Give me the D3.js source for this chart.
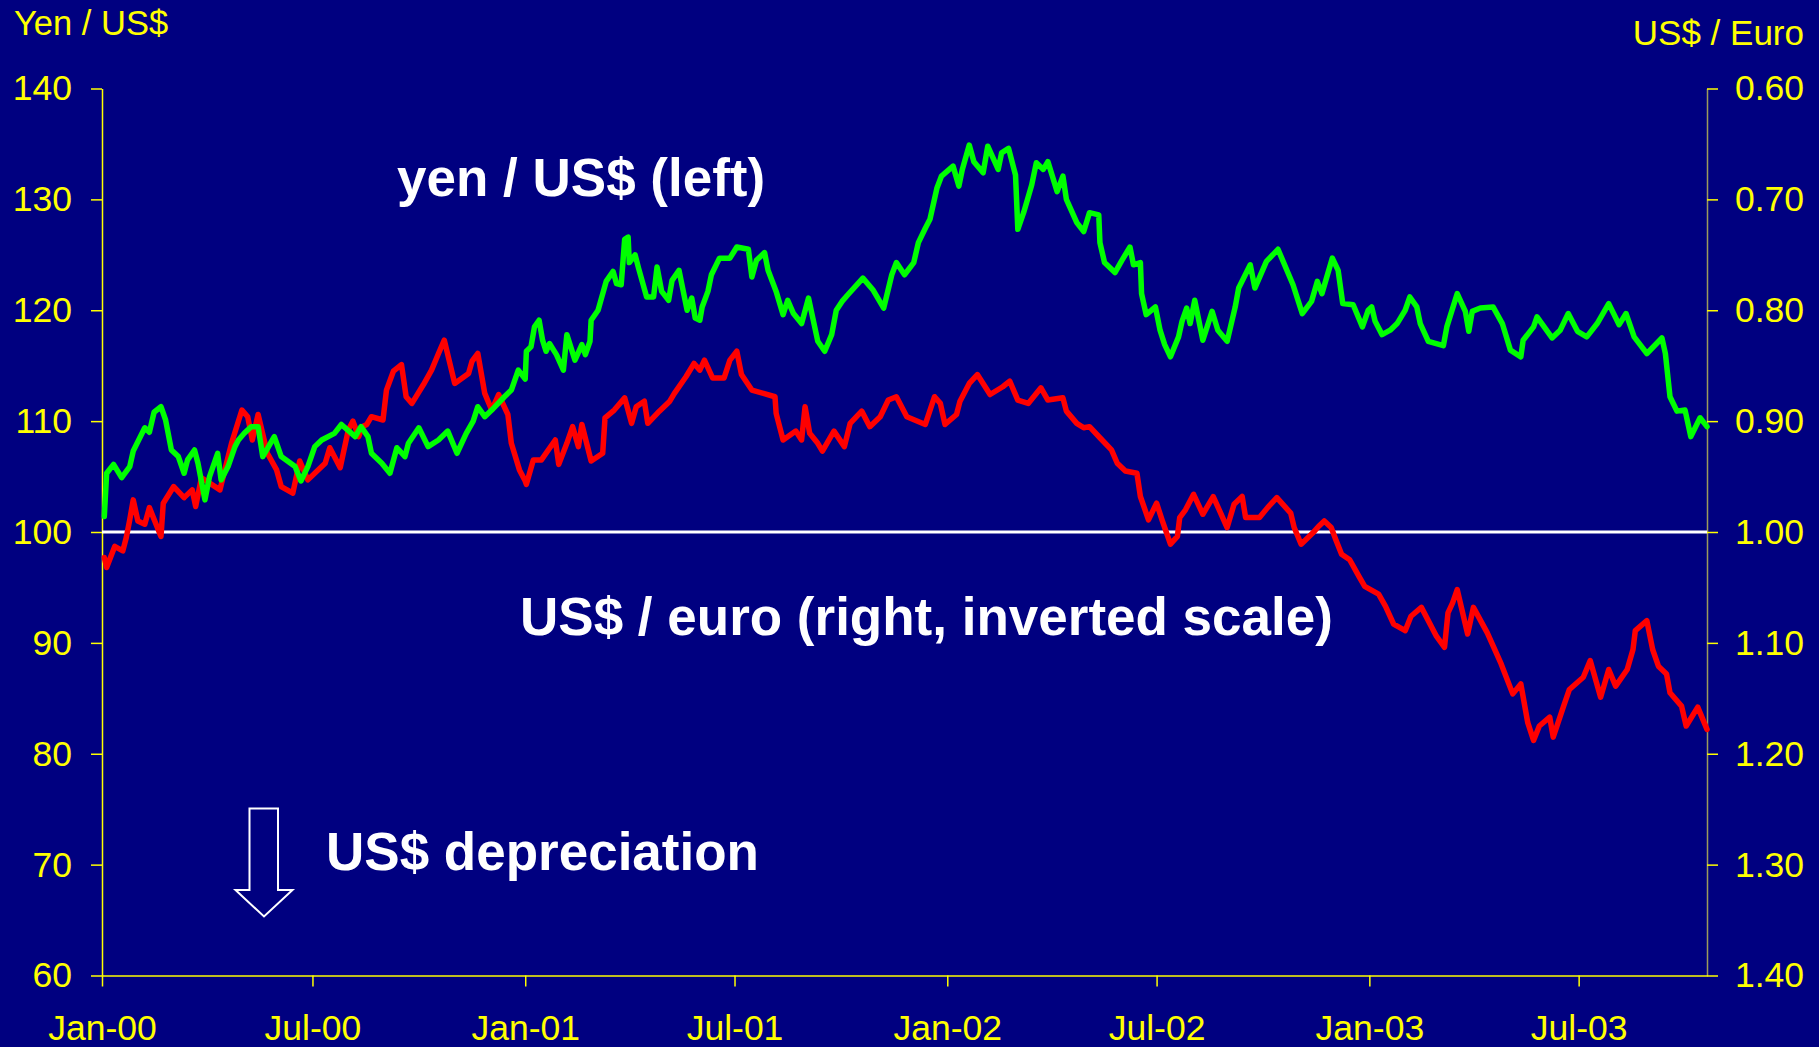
<!DOCTYPE html>
<html>
<head>
<meta charset="utf-8">
<script src="https://cdn.jsdelivr.net/npm/d3@7"></script>
<style>
  html, body { margin: 0; padding: 0; background: #000080; }
  svg { display: block; }
  text { font-family: "Liberation Sans", Arial, Helvetica, sans-serif; }
</style>
</head>
<body>
<svg id="chart" width="1819" height="1047"></svg>
<script>
// ---------------- data ----------------
const yenDates = [
"2000-01-03","2000-01-05","2000-01-11","2000-01-18","2000-01-25","2000-01-28","2000-02-07","2000-02-11","2000-02-15","2000-02-21",
"2000-02-25","2000-03-01","2000-03-07","2000-03-12","2000-03-15","2000-03-21","2000-03-24","2000-03-30","2000-04-03","2000-04-10",
"2000-04-13","2000-04-19","2000-04-25","2000-04-28","2000-05-03","2000-05-09","2000-05-15","2000-05-19","2000-05-29","2000-06-04",
"2000-06-16","2000-06-21","2000-06-27","2000-07-03","2000-07-09","2000-07-20","2000-07-26","2000-08-07","2000-08-12","2000-08-18",
"2000-08-21","2000-08-30","2000-09-06","2000-09-12","2000-09-19","2000-09-22","2000-10-01","2000-10-09","2000-10-18","2000-10-26",
"2000-11-03","2000-11-11","2000-11-17","2000-11-21","2000-11-27","2000-12-03","2000-12-14","2000-12-20","2000-12-26","2001-01-01",
"2001-01-02","2001-01-06","2001-01-09","2001-01-13","2001-01-16","2001-01-19","2001-01-22","2001-01-28","2001-02-03","2001-02-06",
"2001-02-13","2001-02-19","2001-02-22","2001-02-26","2001-02-27","2001-03-05","2001-03-12","2001-03-18","2001-03-21","2001-03-25",
"2001-03-28","2001-03-31","2001-04-01","2001-04-06","2001-04-09","2001-04-16","2001-04-22","2001-04-25","2001-04-29","2001-05-05",
"2001-05-08","2001-05-14","2001-05-21","2001-05-25","2001-05-28","2001-06-01","2001-06-03","2001-06-08","2001-06-11","2001-06-18",
"2001-06-27","2001-07-03","2001-07-13","2001-07-16","2001-07-20","2001-07-27","2001-07-30","2001-08-06","2001-08-12","2001-08-16",
"2001-08-21","2001-08-28","2001-09-03","2001-09-11","2001-09-17","2001-09-23","2001-09-27","2001-10-02","2001-10-07","2001-10-20",
"2001-10-29","2001-11-07","2001-11-14","2001-11-18","2001-11-25","2001-12-03","2001-12-07","2001-12-13","2001-12-17","2001-12-23",
"2001-12-27","2002-01-06","2002-01-11","2002-01-14","2002-01-20","2002-01-24","2002-02-01","2002-02-05","2002-02-14","2002-02-17",
"2002-02-23","2002-03-01","2002-03-03","2002-03-08","2002-03-15","2002-03-19","2002-03-25","2002-03-29","2002-04-06","2002-04-11",
"2002-04-14","2002-04-23","2002-04-29","2002-05-04","2002-05-12","2002-05-13","2002-05-17","2002-05-26","2002-06-01","2002-06-08",
"2002-06-11","2002-06-17","2002-06-18","2002-06-22","2002-06-30","2002-07-04","2002-07-08","2002-07-13","2002-07-20","2002-07-23",
"2002-07-27","2002-07-30","2002-08-03","2002-08-10","2002-08-18","2002-08-23","2002-08-31","2002-09-07","2002-09-10","2002-09-20",
"2002-09-24","2002-10-04","2002-10-14","2002-10-27","2002-11-04","2002-11-12","2002-11-17","2002-11-21","2002-11-30","2002-12-05",
"2002-12-09","2002-12-18","2002-12-26","2002-12-31","2003-01-03","2003-01-06","2003-01-12","2003-01-19","2003-01-25","2003-02-01",
"2003-02-05","2003-02-11","2003-02-14","2003-02-21","2003-03-06","2003-03-09","2003-03-18","2003-03-25","2003-03-28","2003-03-31",
"2003-04-07","2003-04-18","2003-04-26","2003-05-03","2003-05-12","2003-05-14","2003-05-23","2003-05-26","2003-06-08","2003-06-15",
"2003-06-22","2003-06-30","2003-07-08","2003-07-17","2003-07-27","2003-08-05","2003-08-11","2003-08-18","2003-08-29","2003-09-11",
"2003-09-14","2003-09-18","2003-09-24","2003-10-01","2003-10-06","2003-10-14","2003-10-20"
];
const yenValues = [
101.4,105.3,106.1,104.9,105.9,107.3,109.4,109.0,110.8,111.3,
110.1,107.4,106.8,105.3,106.5,107.4,106.2,102.9,105.0,107.1,
104.7,105.9,107.7,108.3,108.9,109.5,109.5,106.8,108.6,106.8,
105.9,104.6,105.9,107.7,108.3,108.9,109.7,108.6,109.5,108.6,
107.1,106.2,105.3,107.6,106.8,108.0,109.4,107.7,108.3,109.1,
107.1,108.9,110.0,111.3,110.4,111.0,112.2,112.8,114.6,113.8,
116.3,116.7,118.5,119.1,117.3,116.3,117.0,116.0,114.6,117.8,
115.5,116.9,116.0,117.2,119.1,120.0,122.6,123.5,122.4,122.3,
126.4,126.6,124.3,125.0,123.8,121.2,121.2,123.9,121.7,120.9,
122.7,123.6,120.0,121.1,119.3,119.1,120.3,121.7,123.2,124.7,
124.7,125.7,125.5,123.0,124.5,125.2,123.6,121.7,119.6,120.9,
119.7,118.8,121.1,117.2,116.3,117.8,120.0,120.8,121.4,122.9,
121.8,120.2,123.2,124.3,123.2,124.3,126.1,127.4,128.2,131.0,
132.1,133.0,131.2,132.7,134.9,133.4,132.4,134.8,132.7,134.2,
134.6,132.2,127.3,128.8,131.3,133.3,132.7,133.4,130.7,132.1,
130.0,127.9,127.1,128.8,128.6,126.1,124.3,123.4,124.5,125.7,
124.1,124.3,121.5,119.6,120.3,118.2,116.9,115.8,117.6,119.0,
120.2,118.8,120.9,117.3,119.9,118.2,117.2,120.3,122.0,124.1,
122.0,124.4,125.5,122.3,119.7,120.8,122.6,121.5,124.7,123.6,
120.6,120.5,118.5,120.0,120.3,119.0,117.8,118.2,118.8,120.0,
121.2,120.3,118.8,117.2,116.8,118.5,121.5,119.9,118.1,119.9,
120.2,120.3,118.8,116.4,115.8,117.3,118.5,119.4,117.5,118.2,
119.7,118.1,117.6,118.8,120.6,118.7,119.7,117.6,116.1,117.5,
116.1,112.2,110.9,111.0,108.6,110.3,109.5
];

const eurDates = [
"2000-01-03","2000-01-05","2000-01-12","2000-01-19","2000-01-22","2000-01-25","2000-01-28","2000-02-01","2000-02-07","2000-02-11",
"2000-02-21","2000-02-23","2000-03-03","2000-03-12","2000-03-19","2000-03-22","2000-03-27","2000-04-12","2000-04-16","2000-04-22",
"2000-05-01","2000-05-06","2000-05-10","2000-05-15","2000-05-23","2000-05-31","2000-06-04","2000-06-14","2000-06-20","2000-06-27",
"2000-07-12","2000-07-16","2000-07-25","2000-08-01","2000-08-05","2000-08-10","2000-08-13","2000-08-17","2000-08-21","2000-08-31",
"2000-09-03","2000-09-09","2000-09-16","2000-09-20","2000-09-25","2000-10-05","2000-10-12","2000-10-18","2000-10-23","2000-11-01",
"2000-11-13","2000-11-16","2000-11-21","2000-11-27","2000-12-03","2000-12-09","2000-12-17","2000-12-20","2000-12-27","2001-01-01",
"2001-01-02","2001-01-08","2001-01-15","2001-01-27","2001-01-30","2001-02-06","2001-02-11","2001-02-16","2001-02-19","2001-02-27",
"2001-03-09","2001-03-11","2001-03-19","2001-03-28","2001-04-03","2001-04-07","2001-04-14","2001-04-17","2001-04-27","2001-05-06",
"2001-05-10","2001-05-20","2001-05-27","2001-06-01","2001-06-05","2001-06-12","2001-06-22","2001-06-27","2001-07-03","2001-07-07",
"2001-07-16","2001-07-26","2001-08-05","2001-08-06","2001-08-12","2001-08-23","2001-08-28","2001-08-31","2001-09-04","2001-09-11",
"2001-09-15","2001-09-25","2001-10-04","2001-10-09","2001-10-19","2001-10-26","2001-11-04","2001-11-11","2001-11-18","2001-11-27",
"2001-12-13","2001-12-21","2001-12-26","2001-12-30","2002-01-09","2002-01-12","2002-01-20","2002-01-27","2002-02-07","2002-02-18",
"2002-02-24","2002-03-03","2002-03-12","2002-03-23","2002-03-29","2002-04-11","2002-04-14","2002-04-23","2002-04-29","2002-05-04",
"2002-05-13","2002-05-23","2002-05-28","2002-06-04","2002-06-14","2002-06-17","2002-06-24","2002-07-01","2002-07-06","2002-07-13",
"2002-07-19","2002-07-21","2002-07-26","2002-08-02","2002-08-10","2002-08-19","2002-08-31","2002-09-06","2002-09-13","2002-09-16",
"2002-09-28","2002-10-05","2002-10-13","2002-10-25","2002-10-28","2002-11-03","2002-11-13","2002-11-18","2002-11-23","2002-11-29",
"2002-12-03","2002-12-08","2002-12-15","2002-12-23","2002-12-28","2003-01-02","2003-01-09","2003-01-15","2003-01-22","2003-02-01",
"2003-02-06","2003-02-15","2003-02-28","2003-03-07","2003-03-10","2003-03-14","2003-03-18","2003-03-27","2003-04-01","2003-04-13",
"2003-04-25","2003-05-05","2003-05-12","2003-05-18","2003-05-23","2003-05-28","2003-06-06","2003-06-09","2003-06-18","2003-06-23",
"2003-07-05","2003-07-11","2003-07-20","2003-07-27","2003-08-02","2003-08-12","2003-08-17","2003-08-19","2003-08-29","2003-09-03",
"2003-09-08","2003-09-15","2003-09-18","2003-09-28","2003-10-02","2003-10-12","2003-10-20"
];
const eurValues = [
1.023,1.032,1.013,1.017,1.005,0.989,0.971,0.990,0.993,0.978,
1.004,0.974,0.959,0.969,0.962,0.977,0.951,0.962,0.945,0.920,
0.890,0.896,0.917,0.894,0.929,0.944,0.959,0.965,0.936,0.953,
0.938,0.924,0.942,0.908,0.900,0.914,0.905,0.903,0.896,0.899,
0.872,0.855,0.849,0.878,0.884,0.867,0.854,0.839,0.827,0.866,
0.857,0.846,0.839,0.875,0.890,0.876,0.894,0.920,0.944,0.954,
0.957,0.935,0.935,0.917,0.939,0.920,0.905,0.923,0.903,0.936,
0.929,0.897,0.890,0.879,0.902,0.887,0.882,0.902,0.891,0.882,
0.875,0.860,0.848,0.854,0.845,0.861,0.861,0.845,0.837,0.858,
0.872,0.875,0.878,0.893,0.917,0.909,0.917,0.887,0.911,0.920,
0.927,0.909,0.923,0.902,0.891,0.905,0.896,0.881,0.878,0.896,
0.903,0.878,0.884,0.903,0.894,0.882,0.866,0.858,0.876,0.869,
0.864,0.881,0.884,0.870,0.881,0.879,0.891,0.902,0.906,0.905,
0.915,0.926,0.938,0.945,0.947,0.968,0.989,0.974,0.990,1.011,
1.004,0.987,0.980,0.966,0.984,0.968,0.996,0.975,0.968,0.987,
0.987,0.978,0.969,0.983,0.996,1.011,1.001,0.995,0.990,0.996,
1.007,1.020,1.025,1.040,1.049,1.052,1.056,1.067,1.083,1.089,
1.076,1.068,1.094,1.104,1.073,1.064,1.052,1.092,1.068,1.091,
1.119,1.146,1.137,1.172,1.188,1.175,1.167,1.185,1.157,1.142,
1.131,1.116,1.149,1.124,1.139,1.124,1.106,1.089,1.080,1.106,
1.121,1.128,1.145,1.157,1.175,1.158,1.178
];

const xTickDates = ["2000-01-01","2000-07-01","2001-01-01","2001-07-01","2002-01-01","2002-07-01","2003-01-01","2003-07-01"];
const leftTicks = [60,70,80,90,100,110,120,130,140];
const rightTicks = [0.60,0.70,0.80,0.90,1.00,1.10,1.20,1.30,1.40];

// ---------------- layout ----------------
const W = 1819, H = 1047;
const plot = { left: 102, right: 1707, top: 88.5, bottom: 975.5 };
const YELLOW = "#ffff00";
const FONT = '"Liberation Sans", Arial, Helvetica, sans-serif';

const parse = d3.timeParse("%Y-%m-%d");
const svg = d3.select("#chart");

svg.append("rect").attr("width", W).attr("height", H).attr("fill", "#000080");

const x = d3.scaleTime()
  .domain([parse("2000-01-01"), parse("2003-10-20")])
  .range([plot.left, plot.right]);
const yL = d3.scaleLinear().domain([60, 140]).range([plot.bottom, plot.top]);
const yR = d3.scaleLinear().domain([1.40, 0.60]).range([plot.bottom, plot.top]);

// axes
function styleAxis(g, lineColor, tickColor) {
  g.select(".domain").attr("stroke", lineColor).attr("stroke-width", 1.5);
  g.selectAll(".tick line").attr("stroke", tickColor).attr("stroke-width", 1.5);
  g.selectAll(".tick text").attr("fill", YELLOW).attr("font-size", 35.5)
    .attr("font-family", FONT);
}

const gL = svg.append("g").attr("transform", `translate(${plot.left},0)`)
  .call(d3.axisLeft(yL).tickValues(leftTicks).tickSize(11).tickSizeOuter(0).tickPadding(19).tickFormat(d3.format("d")));
styleAxis(gL, YELLOW, YELLOW);

const gR = svg.append("g").attr("transform", `translate(${plot.right},0)`)
  .call(d3.axisRight(yR).tickValues(rightTicks).tickSize(11).tickSizeOuter(0).tickPadding(17).tickFormat(d3.format(".2f")));
styleAxis(gR, "#9c9a5c", YELLOW);

const gB = svg.append("g").attr("transform", `translate(0,${plot.bottom})`)
  .call(d3.axisBottom(x).tickValues(xTickDates.map(parse)).tickSize(11).tickSizeOuter(0).tickPadding(28)
    .tickFormat(d3.timeFormat("%b-%y")));
styleAxis(gB, YELLOW, YELLOW);

// reference line at parity
svg.append("line")
  .attr("x1", plot.left).attr("x2", plot.right)
  .attr("y1", yL(100)).attr("y2", yL(100))
  .attr("stroke", "#ffffff").attr("stroke-width", 3);

// series
const yenData = yenDates.map((d, i) => ({ date: parse(d), v: yenValues[i] }));
const eurData = eurDates.map((d, i) => ({ date: parse(d), v: eurValues[i] }));

svg.append("path").datum(eurData)
  .attr("fill", "none").attr("stroke", "#ff0000").attr("stroke-width", 5.5)
  .attr("stroke-linejoin", "round").attr("stroke-linecap", "round")
  .attr("d", d3.line().x(d => x(d.date)).y(d => yR(d.v)));

svg.append("path").datum(yenData)
  .attr("fill", "none").attr("stroke", "#00ff00").attr("stroke-width", 5.5)
  .attr("stroke-linejoin", "round").attr("stroke-linecap", "round")
  .attr("d", d3.line().x(d => x(d.date)).y(d => yL(d.v)));

// axis titles
svg.append("text").attr("x", 14).attr("y", 35).attr("fill", YELLOW)
  .attr("font-size", 34.5).attr("font-family", FONT).text("Yen / US$");
svg.append("text").attr("x", 1804).attr("y", 45).attr("fill", YELLOW)
  .attr("text-anchor", "end").attr("font-size", 35).attr("font-family", FONT).text("US$ / Euro");

// annotations
const ann = [
  { t: "yen / US$ (left)", x: 397, y: 196 },
  { t: "US$ / euro (right, inverted scale)", x: 520, y: 635 },
  { t: "US$ depreciation", x: 326, y: 870 }
];
svg.selectAll("text.ann").data(ann).enter().append("text")
  .attr("class", "ann")
  .attr("x", d => d.x).attr("y", d => d.y)
  .attr("fill", "#ffffff").attr("font-weight", "bold").attr("font-size", 53)
  .attr("font-family", FONT)
  .text(d => d.t);

// down arrow
const arrow = [[249.5,808.5],[278,808.5],[278,890],[292.5,890],[264,916.5],[235.5,890],[249.5,890]];
svg.append("polygon")
  .attr("points", arrow.map(p => p.join(",")).join(" "))
  .attr("fill", "none").attr("stroke", "#ffffff").attr("stroke-width", 2);
</script>
</body>
</html>
